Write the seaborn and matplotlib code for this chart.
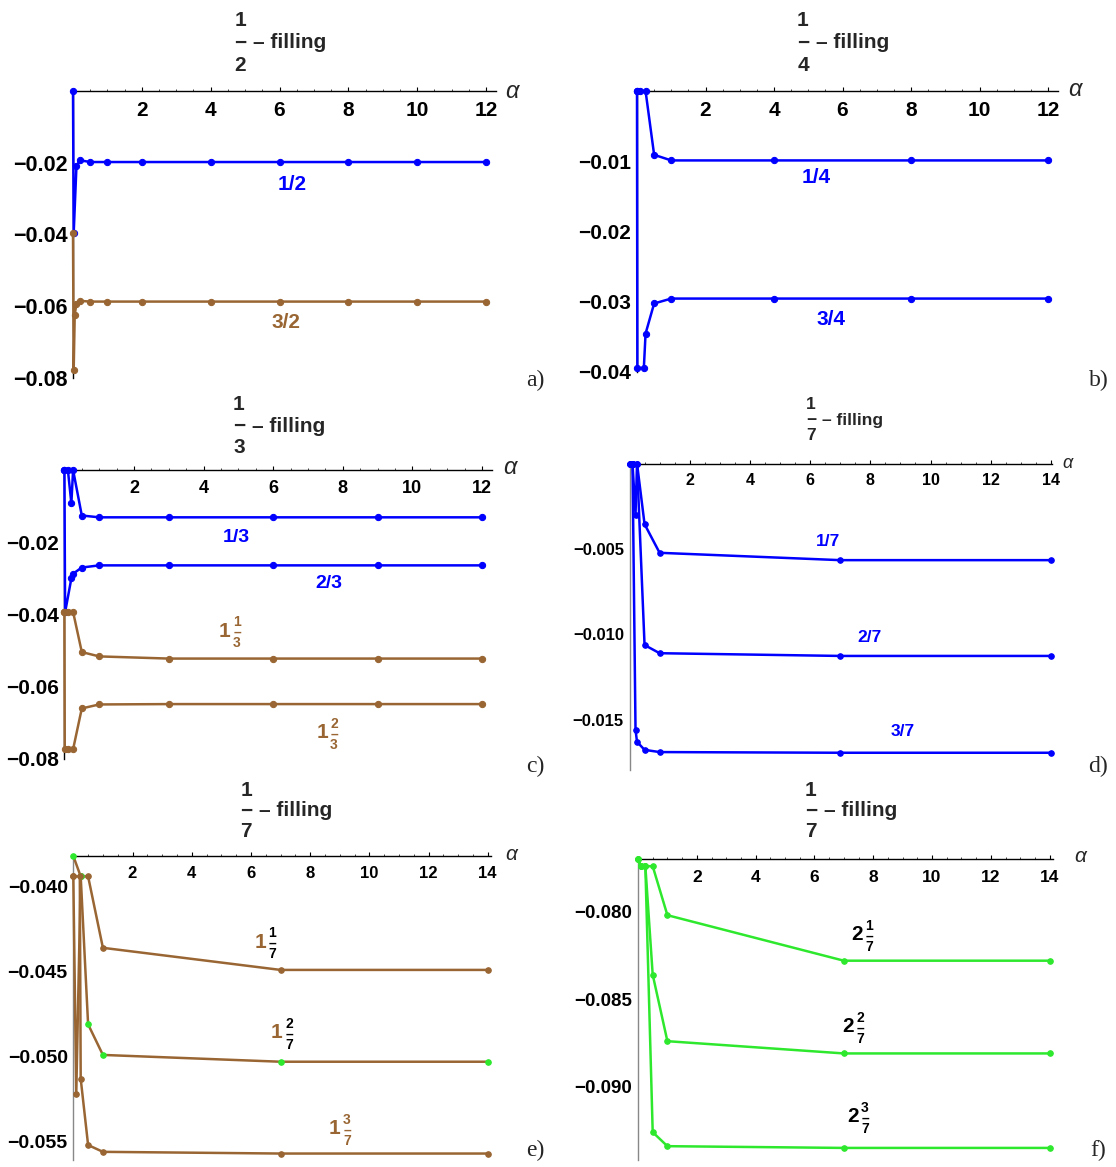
import matplotlib
matplotlib.use("Agg")
import matplotlib.pyplot as plt
from matplotlib.ticker import MultipleLocator, FuncFormatter
import seaborn as sns

W, H = 1116, 1167
BLUE = "#0000ff"
BROWN = "#996633"
GREEN = "#2ee82e"

# a) 1/2 - filling
a_x_half = [0, 0.02, 0.1, 0.2, 0.5, 1, 2, 4, 6, 8, 10, 12]
a_y_half = [0, -0.0396, -0.0210, -0.0193, -0.0198, -0.0198, -0.0198, -0.0198, -0.0198, -0.0198, -0.0198, -0.0198]
a_x_3half = [0, 0.02, 0.05, 0.1, 0.2, 0.5, 1, 2, 4, 6, 8, 10, 12]
a_y_3half = [-0.0396, -0.0778, -0.0623, -0.0594, -0.0585, -0.0587, -0.0587, -0.0587, -0.0587, -0.0587, -0.0587, -0.0587, -0.0587]

# b) 1/4 - filling
b_x_q = [0, 0.1, 0.25, 0.5, 1, 4, 8, 12]
b_y_q = [0, 0, 0, -0.0091, -0.0099, -0.0099, -0.0099, -0.0099]
b_x_3q = [0, 0.01, 0.2, 0.25, 0.5, 1, 4, 8, 12]
b_y_3q = [0, -0.0395, -0.0395, -0.0346, -0.0303, -0.0296, -0.0296, -0.0296, -0.0296]

# c) 1/3 - filling
c_x_13 = [0, 0.1, 0.2, 0.25, 0.5, 1, 3, 6, 9, 12]
c_y_13 = [0, 0, -0.0092, 0, -0.0126, -0.0131, -0.0131, -0.0131, -0.0131, -0.0131]
c_x_23 = [0, 0.02, 0.2, 0.25, 0.5, 1, 3, 6, 9, 12]
c_y_23 = [0, -0.0394, -0.0300, -0.0287, -0.0270, -0.0264, -0.0264, -0.0264, -0.0264, -0.0264]
c_x_113 = [0, 0.1, 0.25, 0.5, 1, 3, 6, 9, 12]
c_y_113 = [-0.0393, -0.0393, -0.0393, -0.0504, -0.0516, -0.0522, -0.0522, -0.0522, -0.0522]
c_x_123 = [0, 0.01, 0.1, 0.25, 0.5, 1, 3, 6, 9, 12]
c_y_123 = [-0.0393, -0.0773, -0.0773, -0.0773, -0.0660, -0.0649, -0.0648, -0.0648, -0.0648, -0.0648]

# d) 1/7 - filling, blue
d_x_17 = [0, 0.1, 0.2, 0.25, 0.5, 1, 7, 14]
d_y_17 = [0, 0, -0.0030, 0, -0.00355, -0.00523, -0.00566, -0.00566]
d_x_27 = [0, 0.1, 0.25, 0.5, 1, 7, 14]
d_y_27 = [0, 0, 0, -0.01063, -0.01111, -0.01127, -0.01127]
d_x_37 = [0, 0.1, 0.2, 0.25, 0.5, 1, 7, 14]
d_y_37 = [0, 0, -0.0156, -0.0163, -0.01677, -0.0169, -0.01694, -0.01694]

# e) 1/7 - filling, brown
e_x_117 = [0, 0.1, 0.25, 0.5, 1, 7, 14]
e_y_117 = [-0.0394, -0.0522, -0.0394, -0.0394, -0.0436, -0.0449, -0.0449]
e_x_127 = [0, 0.25, 0.5, 1, 7, 14]
e_y_127 = [-0.0382, -0.0394, -0.0481, -0.0499, -0.0503, -0.0503]
e_x_137 = [0, 0.22, 0.25, 0.5, 1, 7, 14]
e_y_137 = [-0.0394, -0.0394, -0.0513, -0.0552, -0.0556, -0.0557, -0.0557]

# f) 1/7 - filling, green
f_x = [0, 0.1, 0.25, 0.5, 1, 7, 14]
f_y_217 = [-0.0770, -0.0774, -0.0774, -0.0774, -0.0802, -0.0828, -0.0828]
f_y_227 = [-0.0770, -0.0774, -0.0774, -0.0836, -0.0874, -0.0881, -0.0881]
f_y_237 = [-0.0770, -0.0774, -0.0774, -0.0926, -0.0934, -0.0935, -0.0935]

sns.set_theme(style="white")
plt.rcParams["font.family"] = ["Liberation Sans", "DejaVu Sans"]
plt.rcParams["axes.linewidth"] = 1.0

fig = plt.figure(figsize=(W / 100, H / 100), dpi=100)


def ptext(x, y, s, **kw):
    # place text in pixel coordinates of the output image
    kw.setdefault("ha", "center")
    kw.setdefault("va", "center")
    kw.setdefault("fontweight", "bold")
    return fig.text(x / W, 1 - y / H, s, **kw)


def make_axes(x0, sx, xmax, ytop, ybot, ymin, ymax):
    right = x0 + sx * xmax
    ax = fig.add_axes([x0 / W, 1 - ybot / H, (right - x0) / W, (ybot - ytop) / H])
    ax.set_xlim(0, xmax)
    ax.set_ylim(ymin, ymax)
    return ax


def style_axes(ax, xticks, yticks, yminor, fs_x, fs_y, ydigits, ycolor="black"):
    ax.patch.set_alpha(0)
    for s in ["bottom", "right"]:
        ax.spines[s].set_visible(False)
    ax.spines["top"].set_color("black")
    ax.spines["left"].set_color(ycolor)
    ax.set_xticks(xticks)
    ax.set_yticks(yticks)
    ax.xaxis.set_minor_locator(MultipleLocator(0.5))
    ax.yaxis.set_minor_locator(MultipleLocator(yminor))
    ax.xaxis.set_ticks_position("top")
    ax.tick_params(axis="x", which="major", direction="out", length=3, width=0.8,
                   labelsize=fs_x, pad=-(0.94 * fs_x + 7 + 3), colors="black")
    ax.tick_params(axis="x", which="minor", direction="out", length=1.8, width=0.6)
    ax.tick_params(axis="y", which="major", direction="in", length=3.5, width=0.8,
                   labelsize=fs_y, pad=4, color=ycolor, labelcolor="black")
    ax.tick_params(axis="y", which="minor", direction="in", length=2, width=0.6, color=ycolor)
    ax.yaxis.set_major_formatter(FuncFormatter(lambda v, p: f"{v:.{ydigits}f}".replace("-", "\u2212")))
    for lab in ax.get_xticklabels() + ax.get_yticklabels():
        lab.set_fontweight("bold")
    ax.set_xlabel("")
    ax.set_ylabel("")


def curve(ax, xs, ys, color, mcolor=None, lw=1.8, ms=4.5):
    mcolor = mcolor or color
    sns.lineplot(x=xs, y=ys, color=color, linewidth=lw, marker="o", markersize=ms,
                 markerfacecolor=mcolor, markeredgecolor=mcolor, estimator=None,
                 sort=False, ax=ax, clip_on=False, zorder=3)


def frac_title(cx, y_mid, den, fs, ls=1.1):
    # Mathematica style stacked fraction: 1 over a bar over den, then "- filling"
    ptext(cx, y_mid, f"1\n\u2212\n{den}", fontsize=fs, linespacing=ls)
    ptext(cx + 0.85 * fs, y_mid, "\u2013 filling", fontsize=fs, ha="left")


def mixed(x, y, whole, num, den, c_whole, c_frac, fs=15, fs_frac=10):
    k = fs / 15
    ptext(x, y, whole, color=c_whole, fontsize=fs)
    ptext(x + 12 * k, y + 1.5 * k, f"{num}\n\u2013\n{den}", color=c_frac,
          fontsize=fs_frac, linespacing=0.72)


# ---- a)
ax = make_axes(73, 34.42, 12.3, 91, 378, -0.08, 0)
curve(ax, a_x_half, a_y_half, BLUE)
curve(ax, a_x_3half, a_y_3half, BROWN)
style_axes(ax, [2, 4, 6, 8, 10, 12], [-0.08, -0.06, -0.04, -0.02], 0.005, 15, 15.5, 2)
frac_title(240, 43, "2", 15, ls=1.23)
ptext(292, 185, "1/2", color=BLUE, fontsize=15)
ptext(286, 323, "3/2", color=BROWN, fontsize=15)
ptext(512, 92, "\u03b1", fontsize=17, fontstyle="italic", fontweight="normal")
ptext(535, 380, "a)", fontsize=17, family="Liberation Serif", fontweight="normal")

# ---- b)
ax = make_axes(637, 34.25, 12.3, 91, 371.5, -0.04, 0)
curve(ax, b_x_q, b_y_q, BLUE)
curve(ax, b_x_3q, b_y_3q, BLUE)
style_axes(ax, [2, 4, 6, 8, 10, 12], [-0.04, -0.03, -0.02, -0.01], 0.002, 15, 15, 2)
frac_title(803, 43, "4", 15, ls=1.23)
ptext(816, 177, "1/4", color=BLUE, fontsize=15)
ptext(831, 319, "3/4", color=BLUE, fontsize=15)
ptext(1075, 90, "\u03b1", fontsize=17, fontstyle="italic", fontweight="normal")
ptext(1099, 380, "b)", fontsize=17, family="Liberation Serif", fontweight="normal")

# ---- c)
ax = make_axes(64.4, 34.8, 12.3, 470, 759, -0.08, 0)
curve(ax, c_x_13, c_y_13, BLUE)
curve(ax, c_x_23, c_y_23, BLUE)
curve(ax, c_x_113, c_y_113, BROWN)
curve(ax, c_x_123, c_y_123, BROWN)
style_axes(ax, [2, 4, 6, 8, 10, 12], [-0.08, -0.06, -0.04, -0.02], 0.005, 13, 15, 2)
frac_title(239, 426, "3", 15, ls=1.15)
ptext(236, 537, "1/3", color=BLUE, fontsize=14)
ptext(329, 583, "2/3", color=BLUE, fontsize=14)
mixed(225, 631, "1", "1", "3", BROWN, BROWN)
mixed(322, 733, "1", "2", "3", BROWN, BROWN)
ptext(510, 468, "\u03b1", fontsize=17, fontstyle="italic", fontweight="normal")
ptext(535, 766, "c)", fontsize=17, family="Liberation Serif", fontweight="normal")

# ---- d)
ax = make_axes(629.5, 30.1, 14.05, 463.5, 770, -0.01795, 0)
curve(ax, d_x_17, d_y_17, BLUE, ms=4)
curve(ax, d_x_27, d_y_27, BLUE, ms=4)
curve(ax, d_x_37, d_y_37, BLUE, ms=4)
style_axes(ax, [2, 4, 6, 8, 10, 12, 14], [-0.015, -0.010, -0.005], 0.001, 11.5, 12, 3, ycolor="#888888")
frac_title(811, 420, "7", 12.5, ls=1.07)
ptext(828, 541, "1/7", color=BLUE, fontsize=12.5)
ptext(870, 638, "2/7", color=BLUE, fontsize=12.5)
ptext(903, 732, "3/7", color=BLUE, fontsize=12.5)
ptext(1068, 463, "\u03b1", fontsize=13, fontstyle="italic", fontweight="normal")
ptext(1098, 766, "d)", fontsize=17, family="Liberation Serif", fontweight="normal")

# ---- e)
ax = make_axes(73.3, 29.6, 14.1, 856, 1160, -0.05608, -0.0382)
curve(ax, e_x_117, e_y_117, BROWN, ms=4)
curve(ax, e_x_127, e_y_127, BROWN, mcolor=GREEN, ms=4)
curve(ax, e_x_137, e_y_137, BROWN, ms=4)
style_axes(ax, [2, 4, 6, 8, 10, 12, 14], [-0.055, -0.050, -0.045, -0.040], 0.001, 12, 14, 3, ycolor="#888888")
frac_title(246, 811, "7", 15, ls=1.1)
mixed(260, 942, "1", "1", "7", BROWN, "black")
mixed(277, 1033, "1", "2", "7", BROWN, "black")
mixed(335, 1129, "1", "3", "7", BROWN, BROWN)
ptext(511, 855, "\u03b1", fontsize=15, fontstyle="italic", fontweight="normal")
ptext(535, 1150, "e)", fontsize=17, family="Liberation Serif", fontweight="normal")

# ---- f)
ax = make_axes(638, 29.4, 14.1, 858.5, 1160, -0.09419, -0.07696)
curve(ax, f_x, f_y_217, GREEN, ms=4)
curve(ax, f_x, f_y_227, GREEN, ms=4)
curve(ax, f_x, f_y_237, GREEN, ms=4)
style_axes(ax, [2, 4, 6, 8, 10, 12, 14], [-0.090, -0.085, -0.080], 0.001, 12.5, 13.5, 3, ycolor="#888888")
frac_title(811, 811, "7", 15, ls=1.1)
mixed(857, 935, "2", "1", "7", "black", "black")
mixed(848, 1027, "2", "2", "7", "black", "black")
mixed(853, 1117, "2", "3", "7", "black", "black")
ptext(1080, 856, "\u03b1", fontsize=15, fontstyle="italic", fontweight="normal")
ptext(1098, 1150, "f)", fontsize=17, family="Liberation Serif", fontweight="normal")

fig.savefig("out.png", dpi=100)
